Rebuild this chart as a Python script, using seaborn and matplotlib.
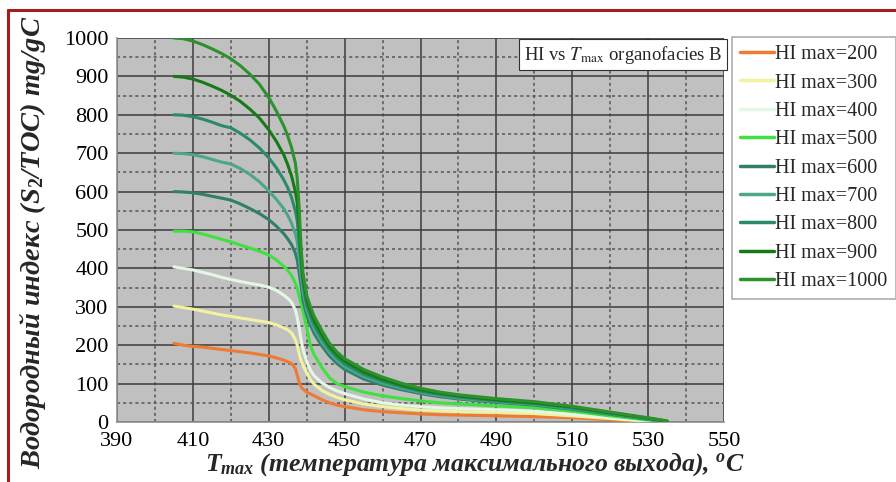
import numpy as np
import pandas as pd
import matplotlib
matplotlib.use("Agg")
import matplotlib.pyplot as plt
from matplotlib.lines import Line2D
from matplotlib.ticker import FixedLocator
import seaborn as sns

# ---------------- data ----------------
tmax = [405, 407.5, 410, 412.5, 415, 417.5, 420, 422.5, 425, 427.5, 430, 432, 434,
        435, 436, 437, 437.5, 438, 438.5, 439, 440, 441, 442, 444, 446, 448, 450,
        455, 460, 465, 470, 475, 480, 490, 500, 510, 520, 530, 535]

hi_200 = [205, 200, 197, 195, 192, 189, 186, 183, 180, 176, 172, 167, 161,
          157, 152, 140, 122, 104, 92, 86, 78, 73, 68, 58, 50, 44, 40,
          32, 27, 24, 21, 19, 18, 16, 14, 11, 6, 1, 0]
hi_300 = [302, 298, 294, 289, 284, 279, 275, 271, 267, 263, 259, 253, 245,
          240, 232, 215, 200, 178, 160, 148, 128, 110, 98, 82, 72, 64, 58,
          47, 40, 35, 31, 29, 27, 25, 22, 16, 9, 2, 0]
hi_400 = [404, 400, 396, 390, 384, 377, 371, 366, 361, 357, 351, 343, 330,
          322, 312, 292, 272, 245, 215, 190, 158, 135, 120, 102, 90, 81, 74,
          60, 50, 44, 40, 37, 35, 32, 28, 20, 11, 3, 0]
hi_500 = [497, 497, 495, 490, 483, 476, 469, 461, 453, 445, 435, 422, 405,
          395, 382, 362, 348, 328, 310, 290, 245, 198, 175, 142, 115, 100, 92,
          78, 68, 61, 55, 50, 47, 42, 37, 28, 16, 5, 0]
hi_600 = [600, 599, 597, 593, 588, 583, 578, 568, 556, 543, 527, 510, 490,
          477, 462, 440, 422, 390, 355, 318, 278, 252, 230, 198, 172, 152, 137,
          112, 96, 84, 74, 66, 60, 51, 44, 33, 20, 7, 1]
hi_700 = [700, 699, 696, 691, 684, 677, 672, 660, 645, 626, 602, 580, 555,
          538, 518, 490, 470, 430, 385, 340, 292, 264, 241, 208, 181, 160, 144,
          118, 101, 88, 77, 69, 62, 53, 46, 35, 22, 8, 1]
hi_800 = [800, 799, 795, 789, 781, 772, 766, 752, 735, 714, 688, 662, 630,
          610, 585, 550, 525, 470, 415, 360, 305, 276, 252, 218, 189, 168, 151,
          124, 106, 92, 80, 72, 65, 55, 48, 37, 23, 9, 2]
hi_900 = [900, 898, 893, 885, 875, 864, 851, 835, 815, 792, 761, 731, 695,
          670, 641, 601, 571, 510, 440, 375, 318, 288, 263, 227, 197, 175, 158,
          130, 111, 96, 84, 75, 68, 58, 50, 39, 24, 10, 2]
hi_1000 = [1000, 998, 992, 983, 972, 960, 946, 928, 906, 880, 845, 810, 770,
           745, 715, 675, 635, 560, 460, 390, 330, 300, 275, 238, 205, 182, 165,
           137, 117, 101, 88, 78, 71, 61, 53, 41, 26, 11, 3]

labels = ["HI max=200", "HI max=300", "HI max=400", "HI max=500", "HI max=600",
          "HI max=700", "HI max=800", "HI max=900", "HI max=1000"]
series = [hi_200, hi_300, hi_400, hi_500, hi_600, hi_700, hi_800, hi_900, hi_1000]
colors = ["#F07A32", "#F2F2A0", "#E4F6E4", "#3FE03F", "#2F7F6A",
          "#4BA68A", "#2A8A6C", "#167A16", "#2C922C"]

x_ticks = [390, 410, 430, 450, 470, 490, 510, 530, 550]
y_ticks = [0, 100, 200, 300, 400, 500, 600, 700, 800, 900, 1000]

df = pd.concat([pd.DataFrame({"Tmax": tmax, "HI": s, "series": lab})
                for s, lab in zip(series, labels)], ignore_index=True)

# ---------------- style ----------------
sns.set_theme(style="white")
plt.rcParams["font.family"] = ["Liberation Serif", "DejaVu Serif"]
plt.rcParams["mathtext.fontset"] = "custom"
plt.rcParams["mathtext.it"] = "Liberation Serif:italic:bold"
plt.rcParams["mathtext.rm"] = "Liberation Serif:bold"
plt.rcParams["mathtext.bf"] = "Liberation Serif:bold"

fig = plt.figure(figsize=(8.96, 4.82), dpi=100)
ax = fig.add_axes([117 / 896, 60 / 482, (724 - 117) / 896, (422 - 38) / 482])
ax.set_facecolor("#C0C0C0")

sns.lineplot(data=df, x="Tmax", y="HI", hue="series", hue_order=labels,
             palette=colors, linewidth=2.2, legend=False, ax=ax, sort=True,
             estimator=None, zorder=3)

ax.set_xlim(390, 550)
ax.set_ylim(0, 1000)
ax.xaxis.set_major_locator(FixedLocator(x_ticks))
ax.yaxis.set_major_locator(FixedLocator(y_ticks))
ax.xaxis.set_minor_locator(FixedLocator([400, 420, 440, 460, 480, 500, 520, 540]))
ax.yaxis.set_minor_locator(FixedLocator([50, 150, 250, 350, 450, 550, 650, 750, 850, 950]))
ax.grid(which="major", color="#3c3c3c", linewidth=1.1, linestyle="-", zorder=1)
ax.grid(which="minor", color="#555555", linewidth=1.1, linestyle=(0, (2, 2)), zorder=1)
ax.set_axisbelow(True)

ax.tick_params(axis="both", which="major", labelsize=16, length=5, width=1,
               color="#808080", direction="out", labelcolor="black")
ax.tick_params(axis="y", which="major", pad=1)
ax.tick_params(axis="x", which="major", pad=2)
ax.tick_params(which="minor", length=0)
for side in ["top", "right"]:
    ax.spines[side].set_visible(False)
for side in ["left", "bottom"]:
    ax.spines[side].set_color("#909090")
    ax.spines[side].set_linewidth(1.2)
ax.set_xlabel("")
ax.set_ylabel("")

ax.text(0.997, 0.985, r"HI vs $T_{\rm max}$ organofacies B",
        transform=ax.transAxes, ha="right", va="top", fontsize=13.5,
        math_fontfamily="stix",
        bbox=dict(boxstyle="square,pad=0.25", facecolor="white",
                  edgecolor="#303030", linewidth=0.8), zorder=5)

# legend
handles = [Line2D([0], [0], color=c, linewidth=2.5) for c in colors]
leg = fig.legend(handles, labels, loc="upper left",
                 bbox_to_anchor=(732 / 896, 1 - 37 / 482),
                 fontsize=14.5, handlelength=1.7, handletextpad=0.05,
                 labelspacing=0.46, borderpad=0.4, frameon=True,
                 fancybox=False, borderaxespad=0)
leg.get_frame().set_edgecolor("#9a9a9a")
leg.get_frame().set_linewidth(1.2)

# axis titles
fig.text(475 / 896, 1 - 464 / 482,
         r"$T_{max}$ (температура максимального выхода), $^{o}$C",
         ha="center", va="center", fontsize=18.5, fontweight="bold",
         fontstyle="italic")
fig.text(33 / 896, 1 - 242 / 482,
         r"Водородный индекс (S$_2$/TOC) mg/gC",
         ha="center", va="center", rotation=90, fontsize=20.5,
         fontweight="bold", fontstyle="italic")

# red frame
fig.add_artist(Line2D([8 / 896, 8 / 896], [0, 1 - 10 / 482], color="#A51E1E",
                      linewidth=2.2, transform=fig.transFigure))
fig.add_artist(Line2D([8 / 896, 1], [1 - 10 / 482, 1 - 10 / 482], color="#A51E1E",
                      linewidth=2.2, transform=fig.transFigure))

fig.savefig("out.png", dpi=100)
